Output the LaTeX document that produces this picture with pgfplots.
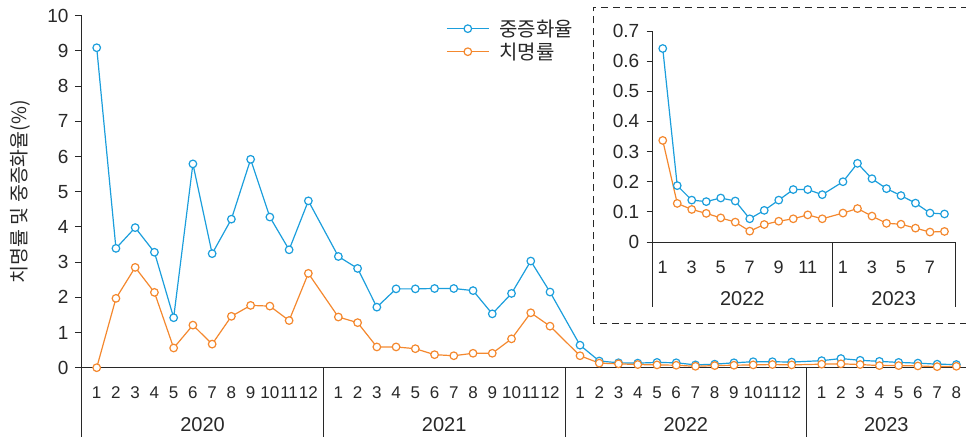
\documentclass[border=0pt]{standalone}
\usepackage{pgfplots}
\pgfplotsset{compat=1.18}
\usepackage{pgfplotstable}
\usepackage{fontspec}
\setmainfont{Liberation Sans}
\newfontfamily\kr{Noto Sans CJK KR}
\definecolor{cblue}{RGB}{27,158,220}
\definecolor{corange}{RGB}{244,136,46}
\definecolor{axc}{RGB}{40,40,40}

\pgfplotstableread{
x sev fat
1 9.09 0
2 3.39 1.97
3 3.98 2.85
4 3.28 2.14
5 1.42 0.56
6 5.79 1.21
7 3.24 0.67
8 4.22 1.46
9 5.92 1.77
10 4.28 1.75
11 3.35 1.34
12 4.74 2.68
13.56 3.16 1.44
14.56 2.82 1.28
15.56 1.72 0.59
16.56 2.24 0.59
17.56 2.24 0.54
18.56 2.25 0.37
19.56 2.25 0.34
20.56 2.19 0.41
21.56 1.53 0.41
22.56 2.11 0.82
23.56 3.03 1.56
24.56 2.15 1.18
26.12 0.64 0.34
27.12 0.19 0.13
28.12 0.14 0.11
29.12 0.13 0.09
30.12 0.15 0.08
31.12 0.14 0.07
32.12 0.08 0.04
33.12 0.10 0.06
34.12 0.14 0.07
35.12 0.17 0.08
36.12 0.17 0.09
37.12 0.16 0.08
38.68 0.20 0.10
39.68 0.26 0.11
40.68 0.21 0.09
41.68 0.18 0.06
42.68 0.15 0.06
43.68 0.13 0.05
44.68 0.10 0.03
45.68 0.09 0.04
}\maindata

\pgfplotstableread{
x sev fat
1 0.642 0.337
2 0.187 0.128
3 0.139 0.108
4 0.134 0.095
5 0.146 0.080
6 0.136 0.066
7 0.077 0.036
8 0.105 0.058
9 0.139 0.069
10 0.174 0.077
11 0.174 0.090
12 0.157 0.077
13.43 0.200 0.096
14.43 0.261 0.111
15.43 0.210 0.086
16.43 0.177 0.062
17.43 0.154 0.059
18.43 0.129 0.046
19.43 0.096 0.033
20.43 0.093 0.035
}\insetdata

\pgfplotsset{
  myline/.style={line width=1.2pt, mark=*, mark size=3.8pt, mark options={fill=white, solid}},
}

\begin{document}
\begin{tikzpicture}
\begin{axis}[
  at={(81.7pt,69.3pt)}, anchor=south west,
  x=19.24pt, y=35.2pt,
  xmin=0.22, xmax=46.18, ymin=0, ymax=10,
  axis x line=bottom, axis y line=left,
  axis line style={-, axc, line width=1pt},
  clip=false,
  tick align=outside,
  major tick length=6.7pt,
  every tick/.style={axc, line width=1pt},
  xtick style={draw=none},
  /pgf/number format/assume math mode=true,
  ytick={0,1,2,3,4,5,6,7,8,9,10},
  yticklabel style={font=\fontsize{19}{19}\selectfont, text=axc, xshift=-3pt},
  xtick={1,2,3,4,5,6,7,8,9,10,11,12,13.56,14.56,15.56,16.56,17.56,18.56,19.56,20.56,21.56,22.56,23.56,24.56,26.12,27.12,28.12,29.12,30.12,31.12,32.12,33.12,34.12,35.12,36.12,37.12,38.68,39.68,40.68,41.68,42.68,43.68,44.68,45.68},
  xticklabels={1,2,3,4,5,6,7,8,9,10,11,12,1,2,3,4,5,6,7,8,9,10,11,12,1,2,3,4,5,6,7,8,9,10,11,12,1,2,3,4,5,6,7,8},
  xticklabel style={font=\fontsize{17}{17}\selectfont, text=axc, anchor=base, yshift=-23.9pt},
  extra x ticks={6.5,19.06,31.62,42.04},
  extra x tick labels={2020,2021,2022,2023},
  extra x tick style={xticklabel style={font=\fontsize{20}{20}\selectfont, yshift=-33.4pt}},
  ylabel={\kr 치명률 및 중증화율(\%)},
  ylabel style={at={(axis description cs:-0.0698,0.5)}, anchor=center, font=\kr\fontsize{19.5}{19.5}\selectfont, text=axc},
  legend style={at={(axis description cs:0.412,0.995)}, anchor=north west, draw=none, fill=none,
    font=\kr\fontsize{20}{21}\selectfont, text=axc, inner sep=0pt, row sep=1pt,
    /tikz/every odd column/.append style={column sep=8pt}},
  legend cell align=left,
  legend image code/.code={\draw[mark repeat=2,mark phase=2,#1] plot coordinates {(0pt,0pt)(21pt,0pt)(42pt,0pt)};},
]
\addplot[myline, cblue] table[x=x, y=sev] {\maindata};
\addlegendentry{중증화율}
\addplot[myline, corange] table[x=x, y=fat] {\maindata};
\addlegendentry{치명률}
\draw[axc, line width=1pt] (axis cs:0.22,0) -- ++(0pt,-69.3pt);
\draw[axc, line width=1pt] (axis cs:12.78,0) -- ++(0pt,-69.3pt);
\draw[axc, line width=1pt] (axis cs:25.34,0) -- ++(0pt,-69.3pt);
\draw[axc, line width=1pt] (axis cs:37.90,0) -- ++(0pt,-69.3pt);
\end{axis}

\draw[axc, line width=1.1pt, dash pattern=on 7pt off 5pt] (593.3pt,113.7pt) rectangle (968pt,429.7pt);

\begin{axis}[
  at={(652.3pt,195pt)}, anchor=south west,
  x=14.5pt, y=301.4pt,
  xmin=0.28, xmax=21.16, ymin=0, ymax=0.7,
  axis x line=bottom, axis y line=left,
  axis line style={-, axc, line width=1pt},
  clip=false,
  tick align=outside,
  major tick length=5.6pt,
  every tick/.style={axc, line width=1pt},
  xtick style={draw=none},
  ytick={0,0.1,0.2,0.3,0.4,0.5,0.6,0.7},
  yticklabels={0,0.1,0.2,0.3,0.4,0.5,0.6,0.7},
  yticklabel style={font=\fontsize{19}{19}\selectfont, text=axc, xshift=-4pt},
  xtick={1,3,5,7,9,11,13.43,15.43,17.43,19.43},
  xticklabels={1,3,5,7,9,11,1,3,5,7},
  xticklabel style={font=\fontsize{18}{18}\selectfont, text=axc, anchor=base, yshift=-25.6pt},
  extra x ticks={6.49,16.93},
  extra x tick labels={2022,2023},
  extra x tick style={xticklabel style={font=\fontsize{20}{20}\selectfont, yshift=-32pt}},
]
\addplot[myline, cblue] table[x=x, y=sev] {\insetdata};
\addplot[myline, corange] table[x=x, y=fat] {\insetdata};
\draw[axc, line width=1pt] (axis cs:0.28,0) -- ++(0pt,-64.7pt);
\draw[axc, line width=1pt] (axis cs:12.70,0) -- ++(0pt,-64.7pt);
\draw[axc, line width=1pt] (axis cs:21.16,0) -- ++(0pt,-64.7pt);
\end{axis}

\pgfresetboundingbox
\useasboundingbox (0pt,0pt) rectangle (966pt,437pt);
\end{tikzpicture}
\end{document}
